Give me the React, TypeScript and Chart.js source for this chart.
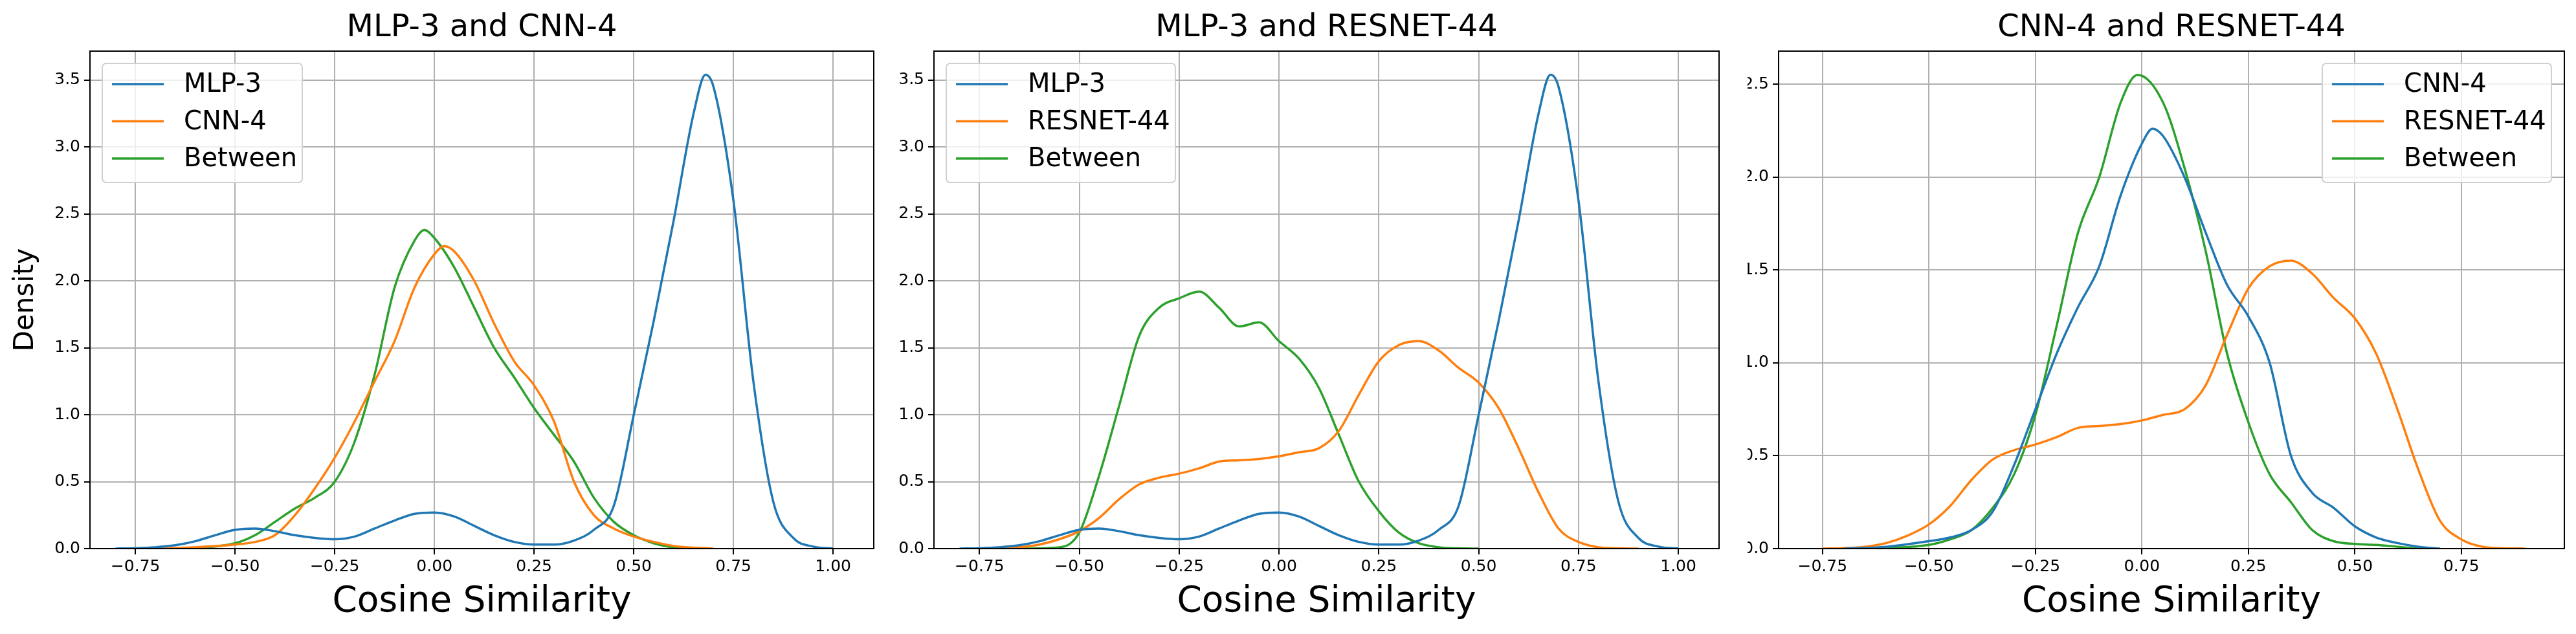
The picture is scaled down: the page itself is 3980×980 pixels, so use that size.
import React, { useEffect, useRef } from "react";
import { Chart, registerables } from "chart.js";
Chart.register(...registerables);

const BLUE = "#1f77b4", ORANGE = "#ff7f0e", GREEN = "#2ca02c";

// MLP-3
const mlpX = [-0.8,-0.75,-0.7,-0.65,-0.6,-0.55,-0.5,-0.45,-0.4,-0.35,-0.3,-0.25,-0.2,-0.15,-0.1,-0.05,0,0.05,0.1,0.15,0.2,0.25,0.3,0.35,0.4,0.45,0.5,0.55,0.6,0.65,0.68,0.7,0.75,0.8,0.85,0.9,0.95,1.0];
const mlpY = [0,0.003,0.01,0.025,0.055,0.1,0.14,0.15,0.13,0.1,0.08,0.07,0.09,0.15,0.21,0.26,0.27,0.24,0.17,0.1,0.05,0.03,0.03,0.06,0.14,0.32,1.0,1.7,2.45,3.25,3.54,3.45,2.6,1.25,0.35,0.08,0.015,0];
// CNN-4 (panel 1)
const cnnX = [-0.7,-0.6,-0.5,-0.45,-0.4,-0.35,-0.3,-0.25,-0.2,-0.15,-0.1,-0.05,0,0.025,0.05,0.1,0.15,0.2,0.25,0.3,0.35,0.4,0.45,0.5,0.55,0.6,0.7];
const cnnY = [0,0.01,0.03,0.05,0.1,0.25,0.45,0.68,0.95,1.25,1.55,1.95,2.2,2.26,2.22,2.0,1.68,1.4,1.22,0.95,0.5,0.25,0.15,0.09,0.05,0.02,0];
// Between MLP-3 / CNN-4
const b1X = [-0.6,-0.5,-0.45,-0.4,-0.35,-0.3,-0.25,-0.2,-0.15,-0.1,-0.05,-0.025,0,0.05,0.1,0.15,0.2,0.25,0.3,0.35,0.4,0.45,0.5,0.55,0.6,0.65];
const b1Y = [0,0.04,0.1,0.2,0.3,0.38,0.5,0.8,1.3,1.95,2.3,2.38,2.32,2.1,1.8,1.5,1.28,1.05,0.85,0.65,0.38,0.2,0.1,0.04,0.01,0];
// RESNET-44
const resX = [-0.75,-0.7,-0.65,-0.6,-0.55,-0.5,-0.45,-0.4,-0.35,-0.3,-0.25,-0.2,-0.15,-0.1,-0.05,0,0.05,0.1,0.15,0.2,0.25,0.3,0.35,0.4,0.45,0.5,0.55,0.6,0.65,0.7,0.75,0.8,0.85,0.9];
const resY = [0,0.003,0.01,0.03,0.07,0.13,0.23,0.37,0.48,0.53,0.56,0.6,0.65,0.66,0.67,0.69,0.72,0.75,0.88,1.15,1.4,1.52,1.55,1.48,1.35,1.24,1.05,0.75,0.42,0.15,0.05,0.01,0.002,0];
// Between MLP-3 / RESNET-44
const b2X = [-0.65,-0.55,-0.5,-0.45,-0.4,-0.35,-0.3,-0.25,-0.2,-0.15,-0.1,-0.05,0,0.05,0.1,0.15,0.2,0.25,0.3,0.35,0.4,0.45,0.5];
const b2Y = [0,0.01,0.12,0.55,1.07,1.59,1.8,1.87,1.92,1.8,1.66,1.69,1.55,1.42,1.2,0.85,0.5,0.28,0.12,0.04,0.01,0.002,0];
// CNN-4 (panel 3)
const cnn3X = [-0.7,-0.6,-0.5,-0.45,-0.4,-0.35,-0.3,-0.25,-0.2,-0.15,-0.1,-0.05,0,0.025,0.05,0.1,0.15,0.2,0.25,0.3,0.35,0.4,0.45,0.5,0.55,0.6,0.65,0.7];
const cnn3Y = [0,0.01,0.04,0.06,0.1,0.2,0.45,0.75,1.05,1.3,1.52,1.9,2.18,2.26,2.22,2.0,1.7,1.42,1.25,1.0,0.5,0.3,0.22,0.12,0.06,0.03,0.01,0];
// Between CNN-4 / RESNET-44
const b3X = [-0.65,-0.5,-0.45,-0.4,-0.35,-0.3,-0.25,-0.2,-0.15,-0.1,-0.05,-0.01,0.05,0.1,0.15,0.2,0.25,0.3,0.35,0.4,0.45,0.5,0.55,0.6,0.65];
const b3Y = [0,0.02,0.05,0.1,0.22,0.4,0.72,1.2,1.7,2.0,2.4,2.55,2.4,2.05,1.6,1.05,0.68,0.4,0.25,0.1,0.04,0.025,0.02,0.01,0];

const xTicks = [-0.75,-0.5,-0.25,0,0.25,0.5,0.75,1.0];

const FONT = "'DejaVu Sans', sans-serif";

type Series = { label: string; color: string; xs: number[]; ys: number[] };
type Panel = {
  title: string; left: number; width: number; yAxisW: number; padRight: number;
  xmin: number; xmax: number; ymax: number; yLabel?: string;
  legendRight: boolean; legendW: number; series: Series[];
};

const panels: Panel[] = [
  { title: "MLP-3 and CNN-4", left: 0, width: 1390, yAxisW: 139, padRight: 40, xmin: -0.864, xmax: 1.102, ymax: 3.717, yLabel: "Density", legendRight: false, legendW: 309,
    series: [{ label: "MLP-3", color: BLUE, xs: mlpX, ys: mlpY }, { label: "CNN-4", color: ORANGE, xs: cnnX, ys: cnnY }, { label: "Between", color: GREEN, xs: b1X, ys: b1Y }] },
  { title: "MLP-3 and RESNET-44", left: 1390, width: 1310, yAxisW: 53, padRight: 44, xmin: -0.864, xmax: 1.102, ymax: 3.717, legendRight: false, legendW: 354,
    series: [{ label: "MLP-3", color: BLUE, xs: mlpX, ys: mlpY }, { label: "RESNET-44", color: ORANGE, xs: resX, ys: resY }, { label: "Between", color: GREEN, xs: b2X, ys: b2Y }] },
  { title: "CNN-4 and RESNET-44", left: 2700, width: 1280, yAxisW: 48, padRight: 18, xmin: -0.853, xmax: 0.992, ymax: 2.678, legendRight: true, legendW: 354,
    series: [{ label: "CNN-4", color: BLUE, xs: cnn3X, ys: cnn3Y }, { label: "RESNET-44", color: ORANGE, xs: resX, ys: resY }, { label: "Between", color: GREEN, xs: b3X, ys: b3Y }] },
];

function PanelChart({ p }: { p: Panel }) {
  const ref = useRef<HTMLCanvasElement>(null);
  useEffect(() => {
    const deco = {
      id: "deco",
      afterDraw(chart: any) {
        const ctx = chart.ctx; const a = chart.chartArea;
        ctx.save();
        // frame
        ctx.strokeStyle = "#000"; ctx.lineWidth = 2;
        ctx.strokeRect(a.left, a.top, a.right - a.left, a.bottom - a.top);
        // title
        ctx.fillStyle = "#000"; ctx.textAlign = "center"; ctx.textBaseline = "middle";
        ctx.font = `48px ${FONT}`;
        ctx.fillText(p.title, (a.left + a.right) / 2, 44);
        // x title
        ctx.font = `55px ${FONT}`;
        ctx.fillText("Cosine Similarity", (a.left + a.right) / 2, 931);
        if (p.yLabel) {
          ctx.save(); ctx.translate(40, (a.top + a.bottom) / 2); ctx.rotate(-Math.PI / 2);
          ctx.font = `42px ${FONT}`; ctx.fillText(p.yLabel, 0, 0); ctx.restore();
        }
        // legend
        const bx = p.legendRight ? a.right - 20 - p.legendW : a.left + 19;
        const by = a.top + 19; const bw = p.legendW, bh = 184;
        ctx.fillStyle = "rgba(255,255,255,0.8)"; ctx.strokeStyle = "#d0d0d0"; ctx.lineWidth = 2;
        ctx.beginPath();
        (ctx as any).roundRect ? (ctx as any).roundRect(bx, by, bw, bh, 6) : ctx.rect(bx, by, bw, bh);
        ctx.fill(); ctx.stroke();
        ctx.font = `40px ${FONT}`; ctx.textAlign = "left";
        p.series.forEach((s, i) => {
          const yy = a.top + 51 + i * 57.5;
          ctx.strokeStyle = s.color; ctx.lineWidth = 3.5;
          ctx.beginPath(); ctx.moveTo(bx + 15, yy); ctx.lineTo(bx + 95, yy); ctx.stroke();
          ctx.fillStyle = "#000"; ctx.fillText(s.label, bx + 126, yy + 2);
        });
        ctx.restore();
      },
    };
    const yTicks: number[] = [];
    for (let v = 0; v <= p.ymax + 1e-9; v += 0.5) yTicks.push(Math.round(v * 10) / 10);
    const chart = new Chart(ref.current!, {
      type: "line",
      data: {
        datasets: p.series.map((s) => ({
          label: s.label,
          data: s.xs.map((x, i) => ({ x, y: s.ys[i] })),
          borderColor: s.color, backgroundColor: s.color, borderWidth: 3.5,
          pointRadius: 0, cubicInterpolationMode: "monotone" as const, fill: false,
        })),
      },
      options: {
        animation: false, responsive: false, maintainAspectRatio: false,
        layout: { padding: { top: 79, right: p.padRight, left: 0, bottom: 0 } },
        plugins: { legend: { display: false }, tooltip: { enabled: false }, title: { display: false } },
        scales: {
          x: {
            type: "linear", min: p.xmin, max: p.xmax,
            afterFit: (s: any) => { s.height = 132; },
            afterBuildTicks: (s: any) => { s.ticks = xTicks.filter((v) => v >= p.xmin && v <= p.xmax).map((v) => ({ value: v })); },
            ticks: { font: { family: FONT, size: 25 }, color: "#000", padding: 4, maxRotation: 0,
              callback: (v: any) => (Number(v) < 0 ? "\u2212" : "") + Math.abs(Number(v)).toFixed(2) },
            grid: { color: "#b0b0b0", lineWidth: 2, tickLength: 9, tickColor: "#000", tickWidth: 2 },
            border: { color: "#000", width: 2 },
          },
          y: {
            type: "linear", min: 0, max: p.ymax,
            afterFit: (s: any) => { s.width = p.yAxisW; },
            afterBuildTicks: (s: any) => { s.ticks = yTicks.map((v) => ({ value: v })); },
            ticks: { font: { family: FONT, size: 25 }, color: "#000", padding: 6, callback: (v: any) => Number(v).toFixed(1) },
            grid: { color: "#b0b0b0", lineWidth: 2, tickLength: 9, tickColor: "#000", tickWidth: 2 },
            border: { color: "#000", width: 2 },
          },
        },
      },
      plugins: [deco],
    });
    return () => chart.destroy();
  }, [p]);
  return (
    <canvas ref={ref} width={p.width} height={980}
      style={{ position: "absolute", left: p.left, top: 0, width: p.width, height: 980 }} />
  );
}

export default function App() {
  return (
    <div style={{ position: "absolute", left: 0, top: 0, width: 3980, height: 980, background: "#fff" }}>
      {panels.map((p) => <PanelChart key={p.title} p={p} />)}
    </div>
  );
}
